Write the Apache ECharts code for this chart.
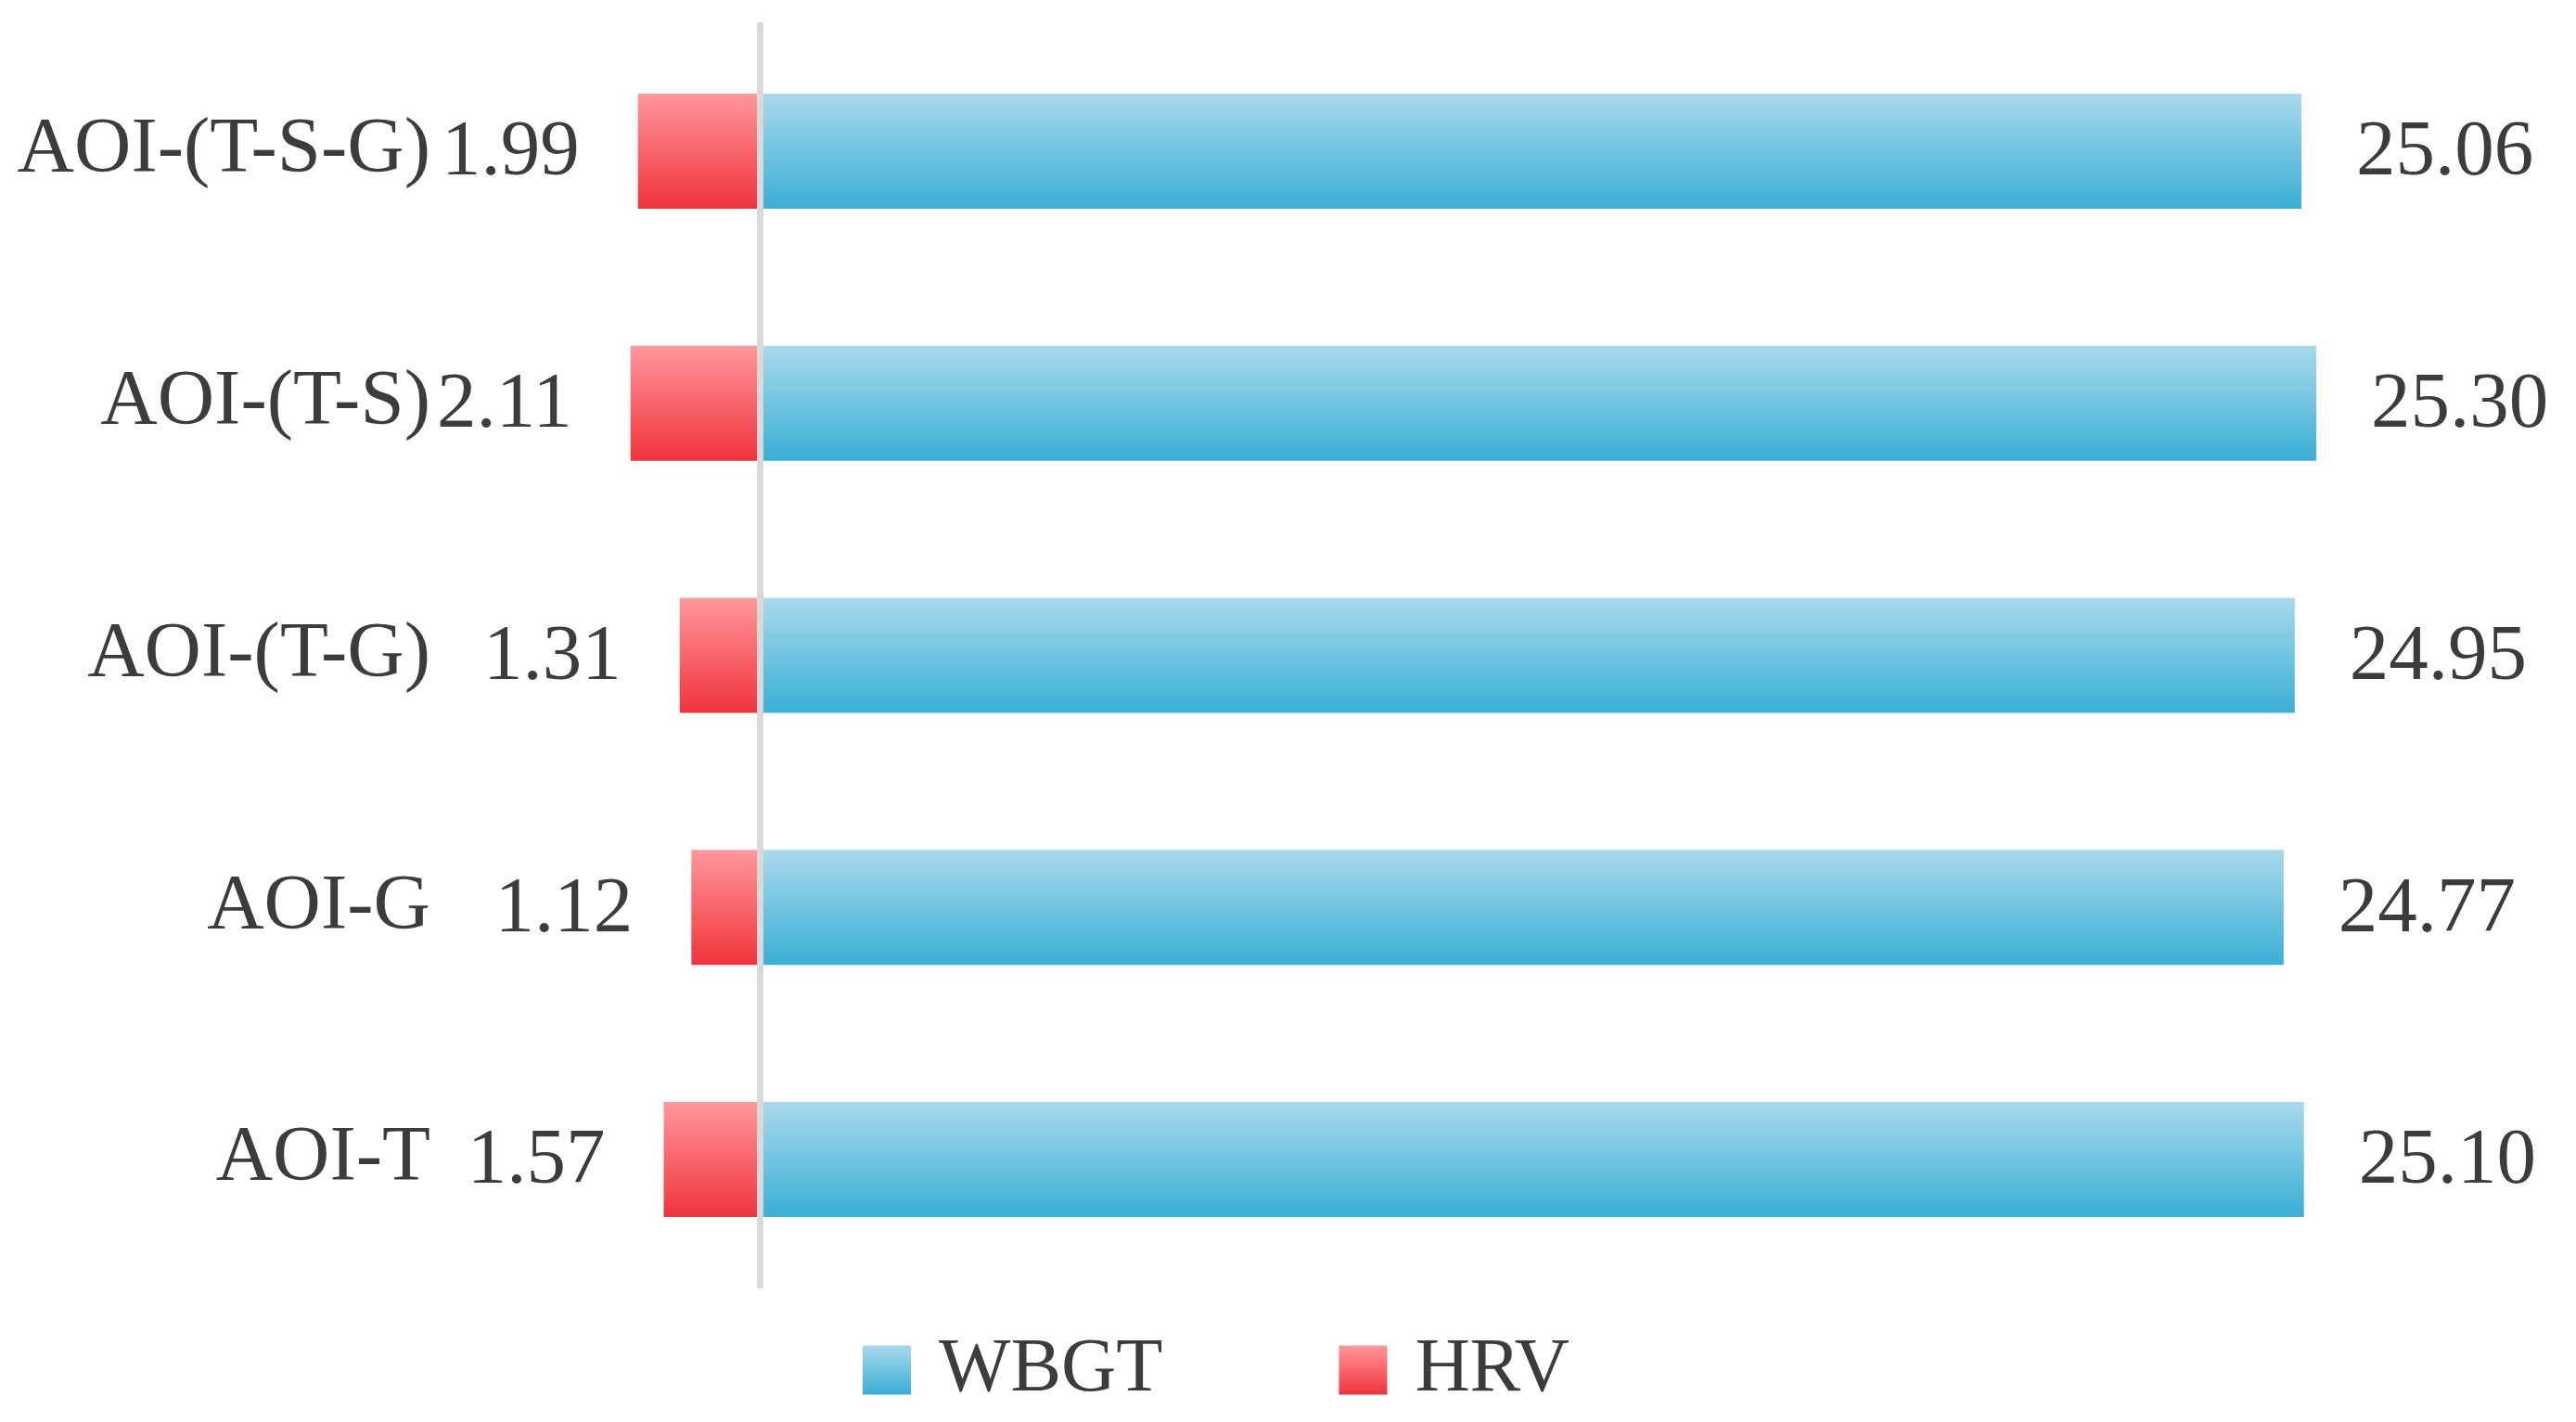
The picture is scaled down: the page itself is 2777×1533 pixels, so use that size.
<!DOCTYPE html>
<html>
<head>
<meta charset="utf-8">
<script src="https://cdn.jsdelivr.net/npm/echarts@6/dist/echarts.min.js"></script>
<style>
  html, body { margin: 0; padding: 0; background: #fff; }
  #main { width: 2777px; height: 1533px; }
</style>
</head>
<body>
<div id="main"></div>
<script>
// 类别（自上而下）
const categories = ['AOI-(T-S-G)', 'AOI-(T-S)', 'AOI-(T-G)', 'AOI-G', 'AOI-T'];
const wbgtValues = [25.06, 25.30, 24.95, 24.77, 25.10];
const hrvValues = [1.99, 2.11, 1.31, 1.12, 1.57];

const chart = echarts.init(document.getElementById('main'));
const font = 'Liberation Serif, Times New Roman, serif';
const textColor = '#3c3c3c';

const blueGrad = new echarts.graphic.LinearGradient(0, 0, 0, 1, [
    { offset: 0, color: '#a8d9ec' },
    { offset: 1, color: '#3aafd5' }
]);
const redGrad = new echarts.graphic.LinearGradient(0, 0, 0, 1, [
    { offset: 0, color: '#ff979c' },
    { offset: 1, color: '#f0333b' }
]);

chart.setOption({
    backgroundColor: '#fff',
    animation: false,
    textStyle: { fontFamily: font },
    // v6 默认会为标签让出空间，这里关掉以固定网格位置
    grid: { left: 24, right: 101, top: 27, height: 1359, containLabel: false, outerBoundsMode: 'none' },
    legend: {
        data: ['WBGT', 'HRV'],
        left: 925,
        top: 1431,
        icon: 'rect',
        itemWidth: 52,
        itemHeight: 53,
        itemGap: 190,
        textStyle: {
            fontFamily: font,
            fontSize: 82,
            color: textColor,
            lineHeight: 82,
            padding: [0, 0, 0, 25]
        }
    },
    xAxis: {
        type: 'value',
        min: -12,
        max: 28,
        show: false
    },
    yAxis: {
        type: 'category',
        data: categories,
        inverse: true,
        z: 5,
        axisLine: { show: true, onZero: true, lineStyle: { color: '#d9d9d9', width: 7 } },
        axisTick: { show: false },
        axisLabel: {
            // 标签相对网格左边定位（负 margin 向右移）
            margin: -440,
            hideOverlap: false,
            fontFamily: font,
            fontSize: 85,
            color: textColor,
            padding: [6, 0, 0, 0]
        }
    },
    series: [
        {
            name: 'WBGT',
            type: 'bar',
            barWidth: 124,
            barGap: '-100%',
            data: wbgtValues,
            itemStyle: { color: blueGrad },
            label: {
                show: true,
                position: 'right',
                distance: 59,
                offset: [0, 3],
                fontFamily: font,
                fontSize: 85,
                color: textColor,
                formatter: p => p.value.toFixed(2)
            }
        },
        {
            name: 'HRV',
            type: 'bar',
            barWidth: 124,
            data: hrvValues.map(v => -v),
            itemStyle: { color: redGrad },
            label: {
                show: true,
                position: 'left',
                distance: 63,
                offset: [0, 3],
                fontFamily: font,
                fontSize: 85,
                color: textColor,
                formatter: p => Math.abs(p.value).toFixed(2)
            }
        }
    ]
});
</script>
</body>
</html>
